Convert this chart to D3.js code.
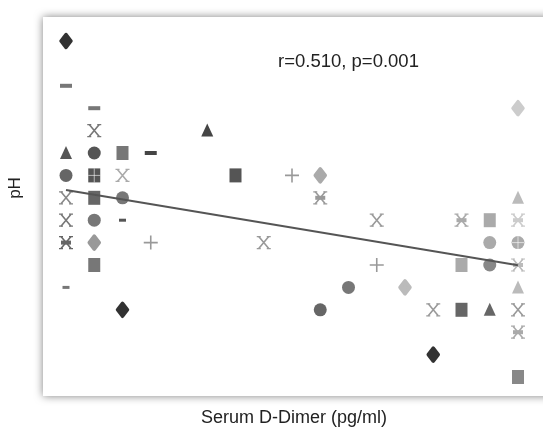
<!DOCTYPE html>
<html>
<head>
<meta charset="utf-8">
<script src="https://cdn.jsdelivr.net/npm/d3@7"></script>
<style>
  html, body { margin: 0; padding: 0; background: #fff; }
  svg { display: block; font-family: "Liberation Sans", Arial, sans-serif; }
</style>
</head>
<body>
<div id="chart"></div>
<script>
// D-Dimer values (no scale printed, column position only)
var dDimer = [0, 0, 0, 0, 0, 0, 0, 0,
              1, 1, 1, 1, 1, 1, 1, 1,
              2, 2, 2, 2, 2,
              3, 3, 5, 6, 7, 8, 9, 9, 9, 10,
              11, 11, 12, 13, 13, 14, 14, 14,
              15, 15, 15, 15,
              16, 16, 16, 16, 16, 16, 16, 16, 16];
var pH = [7.40, 7.36, 7.30, 7.28, 7.26, 7.24, 7.22, 7.18,
          7.34, 7.32, 7.30, 7.28, 7.26, 7.24, 7.22, 7.20,
          7.30, 7.28, 7.26, 7.24, 7.16,
          7.30, 7.22, 7.32, 7.28, 7.22, 7.28, 7.28, 7.26, 7.16, 7.18,
          7.24, 7.20, 7.18, 7.16, 7.12, 7.24, 7.20, 7.16,
          7.24, 7.22, 7.20, 7.16,
          7.34, 7.26, 7.24, 7.22, 7.20, 7.18, 7.16, 7.14, 7.10];
var shapes = ["diamond", "dash", "triangle", "circle", "x", "x", "asterisk", "smalldash",
              "dash", "x", "circle", "gridsquare", "square", "circle", "diamond", "square",
              "square", "x", "circle", "smalldash", "diamond",
              "dash", "plus", "triangle", "square", "x", "plus", "diamond", "asterisk", "circle", "circle",
              "x", "plus", "diamond", "x", "diamond", "asterisk", "square", "square",
              "square", "circle", "circle", "triangle",
              "diamond", "triangle", "asterisk", "circlecross", "asterisk", "triangle", "x", "asterisk", "square"];
var shades = ["#333", "#777", "#555", "#666", "#888", "#777", "#666", "#777",
              "#777", "#777", "#555", "#555", "#666", "#777", "#999", "#777",
              "#777", "#aaa", "#777", "#555", "#333",
              "#444", "#999", "#444", "#555", "#999", "#999", "#aaa", "#999", "#666", "#777",
              "#999", "#999", "#bbb", "#999", "#333", "#aaa", "#aaa", "#666",
              "#aaa", "#aaa", "#888", "#666",
              "#ccc", "#bbb", "#ccc", "#aaa", "#bbb", "#bbb", "#999", "#aaa", "#888"];

// regression line (pH = intercept + slope * x)
var regIntercept = 7.267;
var regSlope = -0.0042;
var statText = "r=0.510, p=0.001";
var xTitle = "Serum D-Dimer (pg/ml)";
var yTitle = "pH";

var width = 543, height = 429;
var panel = { x: 43, y: 17, w: 520, h: 379 };

var svg = d3.select("#chart").append("svg")
    .attr("width", width)
    .attr("height", height);

var defs = svg.append("defs");
var shadow = defs.append("filter").attr("id", "shadow")
    .attr("x", "-10%").attr("y", "-10%").attr("width", "120%").attr("height", "120%");
shadow.append("feDropShadow")
    .attr("dx", 0).attr("dy", 0)
    .attr("stdDeviation", 4)
    .attr("flood-color", "#000")
    .attr("flood-opacity", 0.5);
var soft = defs.append("filter").attr("id", "soft");
soft.append("feGaussianBlur").attr("stdDeviation", 0.55);

svg.append("rect")
    .attr("x", panel.x).attr("y", panel.y)
    .attr("width", panel.w).attr("height", panel.h)
    .attr("fill", "#fff")
    .attr("filter", "url(#shadow)");

var x = d3.scaleLinear().domain([0, 16]).range([66, 518]);
var y = d3.scaleLinear().domain([7.10, 7.40]).range([377, 41]);

// marker path builders, centred at 0,0
function markerPath(shape) {
    var p = d3.path();
    switch (shape) {
        case "square":
        case "gridsquare":
            p.rect(-6, -7, 12, 14);
            break;
        case "circle":
        case "circlecross":
            p.ellipse ? p.ellipse(0, 0, 6, 7, 0, 0, 2 * Math.PI) : p.arc(0, 0, 6.5, 0, 2 * Math.PI);
            break;
        case "triangle":
            p.moveTo(0, -7); p.lineTo(6, 6); p.lineTo(-6, 6); p.closePath();
            break;
        case "diamond":
            p.moveTo(0, -6.5); p.lineTo(5, 0); p.lineTo(0, 6.5); p.lineTo(-5, 0); p.closePath();
            break;
        case "dash":
            p.rect(-6, -2, 12, 4);
            break;
        case "smalldash":
            p.rect(-3.5, -1.5, 7, 3);
            break;
    }
    return p.toString();
}

var marks = svg.append("g").attr("filter", "url(#soft)");

pH.forEach(function(v, i) {
    var g = marks.append("g")
        .attr("transform", "translate(" + x(dDimer[i]) + "," + y(v) + ")");
    var s = shapes[i], c = shades[i];
    if (s === "x" || s === "asterisk") {
        var lines = g.append("g").attr("stroke", c).attr("stroke-width", 1.6).attr("fill", "none");
        lines.append("path").attr("d", "M-5,-6L5,6M5,-6L-5,6");
        // little serifs at the ends
        lines.append("path").attr("stroke-width", 1.2)
            .attr("d", "M-7,-6H-3M3,-6H7M-7,6H-3M3,6H7");
        if (s === "asterisk") {
            g.append("rect").attr("x", -5).attr("y", -2).attr("width", 10).attr("height", 4).attr("fill", c);
        }
    } else if (s === "plus") {
        g.append("path").attr("d", "M0,-7V7M-7,0H7")
            .attr("stroke", c).attr("stroke-width", 1.6).attr("fill", "none");
    } else {
        var m = g.append("path").attr("d", markerPath(s)).attr("fill", c);
        if (s === "diamond") {
            m.attr("stroke", c).attr("stroke-width", 3.5).attr("stroke-linejoin", "round");
        }
        if (s === "gridsquare" || s === "circlecross") {
            g.append("path").attr("d", "M0,-7V7M-6,0H6")
                .attr("stroke", "#fff").attr("stroke-opacity", 0.6).attr("stroke-width", 1);
        }
    }
});

// regression line
svg.append("line")
    .attr("x1", x(0)).attr("y1", y(regIntercept))
    .attr("x2", x(16)).attr("y2", y(regIntercept + regSlope * 16))
    .attr("stroke", "#555")
    .attr("stroke-width", 2)
    .attr("filter", "url(#soft)");

svg.append("text")
    .attr("x", 278).attr("y", 67)
    .attr("font-size", 18.5)
    .attr("fill", "#222")
    .text(statText);

svg.append("text")
    .attr("x", 294).attr("y", 423)
    .attr("text-anchor", "middle")
    .attr("font-size", 18)
    .attr("fill", "#222")
    .text(xTitle);

svg.append("text")
    .attr("transform", "translate(20,188) rotate(-90)")
    .attr("text-anchor", "middle")
    .attr("font-size", 17)
    .attr("fill", "#222")
    .text(yTitle);
</script>
</body>
</html>
